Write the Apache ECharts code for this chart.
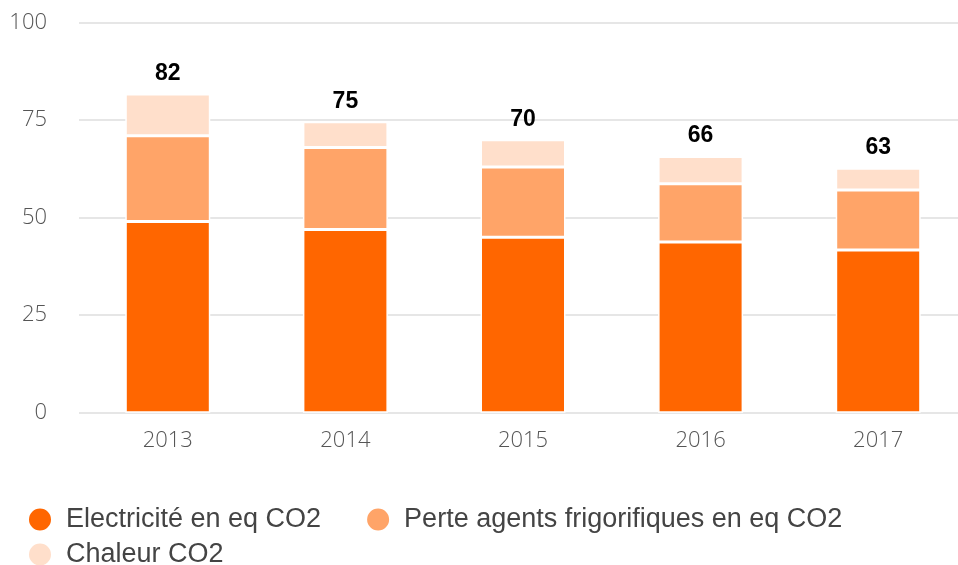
<!DOCTYPE html>
<html>
<head>
<meta charset="utf-8">
<script src="https://cdn.jsdelivr.net/npm/echarts@6/dist/echarts.min.js"></script>
<style>
  html, body { margin: 0; padding: 0; background: #fff; overflow: hidden; }
  #main { width: 967px; height: 565px; }
</style>
</head>
<body>
<div id="main"></div>
<script>
// données
var years = ['2013', '2014', '2015', '2016', '2017'];
var electricite = [49, 47, 45, 43.8, 41.7];
var perteFrigo = [22, 21, 18, 14.9, 15.4];
var chaleur = [10.7, 6.6, 7, 7, 5.6];
var yTicks = [0, 25, 50, 75, 100];

var colors = ['#ff6600', '#ffa468', '#ffdfcb'];
var totals = years.map(function (y, i) {
    return electricite[i] + perteFrigo[i] + chaleur[i];
});

var chart = echarts.init(document.getElementById('main'));

function serie(name, data, color, withLabel) {
    var s = {
        name: name,
        type: 'bar',
        stack: 'co2',
        data: data,
        barWidth: 85,
        itemStyle: { color: color, borderColor: '#fff', borderWidth: 1.5 },
        emphasis: { disabled: true }
    };
    if (withLabel) {
        s.label = {
            show: true,
            position: 'top',
            distance: 9,
            color: '#000',
            fontFamily: 'Liberation Sans',
            fontWeight: 'bold',
            fontSize: 23,
            formatter: function (p) { return Math.round(totals[p.dataIndex]); }
        };
    }
    return s;
}

var legendText = {
    color: '#444', fontFamily: 'Liberation Sans', fontSize: 27,
    padding: [0, 0, 0, 9]
};

chart.setOption({
    animation: false,
    grid: { left: 79, right: 0, top: 22.7, bottom: 152.3 },
    legend: [{
        data: ['Electricité en eq CO2', 'Perte agents frigorifiques en eq CO2'],
        left: 27, top: 506, padding: 0,
        icon: 'circle', itemWidth: 24, itemHeight: 24, itemGap: 44,
        textStyle: legendText
    }, {
        data: ['Chaleur CO2'],
        left: 27, top: 541, padding: 0,
        icon: 'circle', itemWidth: 24, itemHeight: 24,
        textStyle: legendText
    }],
    xAxis: {
        type: 'category',
        data: years,
        axisLine: { show: false },
        axisTick: { show: false },
        axisLabel: {
            margin: 17, color: '#555',
            fontFamily: 'Open Sans', fontWeight: 300, fontSize: 22
        }
    },
    yAxis: {
        type: 'value',
        min: yTicks[0], max: yTicks[yTicks.length - 1], interval: 25,
        axisLine: { show: false },
        axisTick: { show: false },
        splitLine: { lineStyle: { color: '#e6e6e6', width: 2 } },
        axisLabel: {
            margin: 32, color: '#555',
            fontFamily: 'Open Sans', fontWeight: 300, fontSize: 22
        }
    },
    series: [
        serie('Electricité en eq CO2', electricite, colors[0], false),
        serie('Perte agents frigorifiques en eq CO2', perteFrigo, colors[1], false),
        serie('Chaleur CO2', chaleur, colors[2], true)
    ]
});
</script>
</body>
</html>
